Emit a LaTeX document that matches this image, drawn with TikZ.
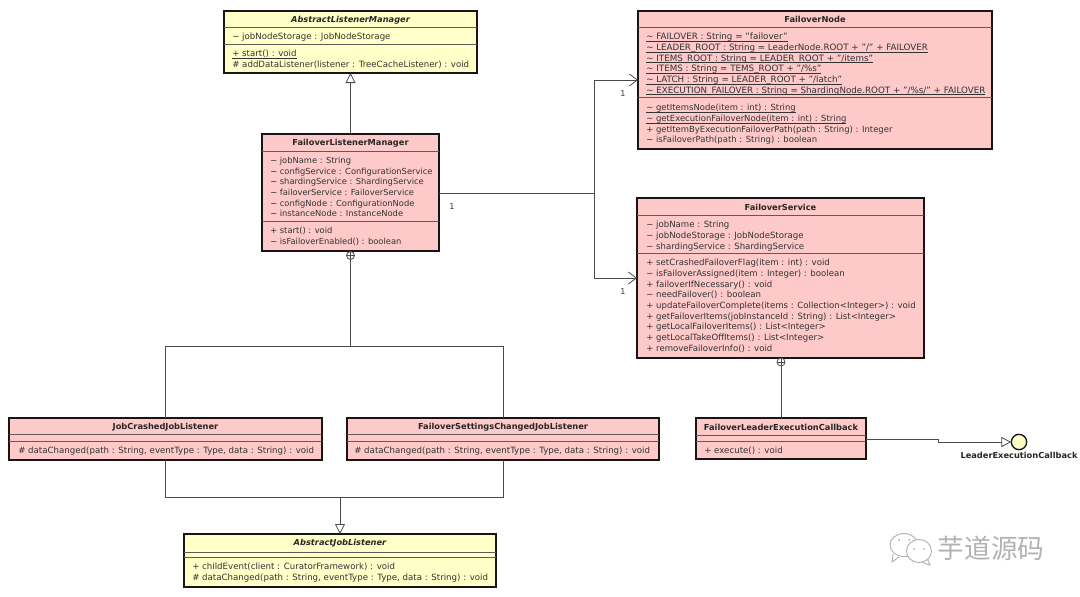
\documentclass[tikz,border=0pt]{standalone}
\usepackage{fontspec}
\setmainfont{DejaVu Sans}
\newfontfamily\cjkwm{Noto Sans CJK SC}
\usetikzlibrary{arrows.meta,calc}
\definecolor{umlpink}{HTML}{FDC9C9}
\definecolor{umlyellow}{HTML}{FFFFC8}
\definecolor{umlline}{HTML}{4A4A4A}
\definecolor{umlborder}{HTML}{1C1414}
\tikzset{
  ubox/.style={draw=umlborder,line width=1.1pt,inner sep=0pt,outer sep=0pt,rectangle},
  usep/.style={draw=umlborder!70,line width=0.7pt},
  utitle/.style={font=\fontsize{6.2}{8}\selectfont\bfseries,text=black!85,inner sep=0pt},
  umember/.style={font=\fontsize{6.47}{8}\selectfont,text=black!80,inner sep=0pt,anchor=north west,align=left,yshift=-1.5pt},
  usize/.style={font=\fontsize{#1}{8}\selectfont},
  conn/.style={draw=umlline,line width=0.75pt},
  gen/.style={conn,-{Triangle[open,fill=white,length=7.5pt,width=7.5pt,line width=0.6pt]}},
  assoc/.style={conn,-{Straight Barb[length=6pt,width=9pt,line width=0.6pt]}},
  mult/.style={font=\fontsize{6}{7}\selectfont,text=black!80,inner sep=0pt},
  nest/.style={circle,draw=umlline,fill=white,line width=0.6pt,minimum size=6pt,inner sep=0pt,outer sep=0pt},
  wmline/.style={draw=black!30,line width=0.7pt,fill=white}
}
\newcommand\ubox[6]{\node[ubox,fill=#6,minimum width={(#4-#2)*0.75pt},minimum height={(#5-#3)*0.75pt}] (#1) at ({(#2+#4)/2},{(#3+#5)/2}) {};}
\newcommand\usepat[2]{\draw[usep] (#1.west |- 0,#2) -- (#1.east |- 0,#2);}
\newcommand\ul[1]{\setbox0\hbox{#1}\rlap{\rule[-1.25pt]{\wd0}{0.35pt}}\box0 }
\begin{document}
\begin{tikzpicture}[x=0.75pt,y=-0.75pt]
\useasboundingbox (0,0) rectangle (1080,596);

% AbstractListenerManager
\ubox{alm}{224}{11}{477}{73}{umlyellow}
\usepat{alm}{27} \usepat{alm}{44}
\node[utitle] (almT) at (350.5,20) {\itshape AbstractListenerManager};
\node[umember] (almA) at (232,31) {− jobNodeStorage : JobNodeStorage};
\node[umember] (almM) at (232,48) {\ul{+ start() : void}\\\# addDataListener(listener : TreeCacheListener) : void};

% FailoverListenerManager
\ubox{flm}{262}{134}{439}{251}{umlpink}
\usepat{flm}{151} \usepat{flm}{221}
\node[utitle] (flmT) at (350.5,143) {FailoverListenerManager};
\node[umember,usize=6.25] (flmA) at (270,155) {− jobName : String\\− configService : ConfigurationService\\− shardingService : ShardingService\\− failoverService : FailoverService\\− configNode : ConfigurationNode\\− instanceNode : InstanceNode};
\node[umember,usize=6.25] (flmM) at (270,225) {+ start() : void\\− isFailoverEnabled() : boolean};

% FailoverNode
\ubox{fn}{638}{11}{992}{149}{umlpink}
\usepat{fn}{27} \usepat{fn}{97}
\node[utitle] (fnT) at (815,19.5) {FailoverNode};
\node[umember,usize=6.55] (fnA) at (646,31) {\ul{\textasciitilde{} FAILOVER : String = "failover"}\\\ul{\textasciitilde{} LEADER\_ROOT : String = LeaderNode.ROOT + "/" + FAILOVER}\\\ul{\textasciitilde{} ITEMS\_ROOT : String = LEADER\_ROOT + "/items"}\\\ul{\textasciitilde{} ITEMS : String = TEMS\_ROOT + "/\%s"}\\\ul{\textasciitilde{} LATCH : String = LEADER\_ROOT + "/latch"}\\\ul{\textasciitilde{} EXECUTION\_FAILOVER : String = ShardingNode.ROOT + "/\%s/" + FAILOVER}};
\node[umember,usize=6.34] (fnM) at (646,102) {\ul{\textasciitilde{} getItemsNode(item : int) : String}\\\ul{\textasciitilde{} getExecutionFailoverNode(item : int) : String}\\+ getItemByExecutionFailoverPath(path : String) : Integer\\− isFailoverPath(path : String) : boolean};

% FailoverService
\ubox{fs}{637}{198}{924}{358}{umlpink}
\usepat{fs}{215} \usepat{fs}{253}
\node[utitle] (fsT) at (780.5,207) {FailoverService};
\node[umember,usize=6.43] (fsA) at (646,219) {− jobName : String\\− jobNodeStorage : JobNodeStorage\\− shardingService : ShardingService};
\node[umember,usize=6.43] (fsM) at (646,257) {+ setCrashedFailoverFlag(item : int) : void\\− isFailoverAssigned(item : Integer) : boolean\\+ failoverIfNecessary() : void\\− needFailover() : boolean\\+ updateFailoverComplete(items : Collection<Integer>) : void\\+ getFailoverItems(jobInstanceId : String) : List<Integer>\\+ getLocalFailoverItems() : List<Integer>\\+ getLocalTakeOffItems() : List<Integer>\\+ removeFailoverInfo() : void};

% JobCrashedJobListener
\ubox{jc}{9}{418}{322}{460}{umlpink}
\usepat{jc}{434} \usepat{jc}{441}
\node[utitle] (jcT) at (165.5,427) {JobCrashedJobListener};
\node[umember] (jcM) at (18,445) {\# dataChanged(path : String, eventType : Type, data : String) : void};

% FailoverSettingsChangedJobListener
\ubox{fc}{347}{418}{659}{460}{umlpink}
\usepat{fc}{434} \usepat{fc}{441}
\node[utitle] (fcT) at (503,427) {FailoverSettingsChangedJobListener};
\node[umember] (fcM) at (354,445) {\# dataChanged(path : String, eventType : Type, data : String) : void};

% AbstractJobListener
\ubox{ajl}{184}{534}{496}{587}{umlyellow}
\usepat{ajl}{552} \usepat{ajl}{557}
\node[utitle] (ajlT) at (340,543) {\itshape AbstractJobListener};
\node[umember] (ajlM) at (192,561) {+ childEvent(client : CuratorFramework) : void\\\# dataChanged(path : String, eventType : Type, data : String) : void};

% FailoverLeaderExecutionCallback
\ubox{cb}{696}{418}{866}{459}{umlpink}
\usepat{cb}{435} \usepat{cb}{441}
\node[utitle] (cbT) at (781,427) {FailoverLeaderExecutionCallback};
\node[umember] (cbM) at (704,445) {+ execute() : void};

% interface lollipop
\node[circle,draw=umlborder,fill=umlyellow,line width=1pt,minimum size=11.5pt,inner sep=0pt,outer sep=0pt] (lec) at (1019,442) {};
\node[utitle] (lecT) at (1019,455) {LeaderExecutionCallback};

% connectors
\draw[gen] (flm.north) -- (alm.south);
\coordinate (busR) at (594,193);
\coordinate (flmOut) at (flm.east |- busR);
\draw[conn] (flmOut) -- (busR);
\draw[assoc] (busR) |- (fn.west |- 0,80);
\draw[assoc] (busR) |- (fs.west |- 0,278);
\node[mult] (m1) at (452,207) {1};
\node[mult] (m2) at (623,94) {1};
\node[mult] (m3) at (623,292) {1};

\node[nest] (nflm) at (350.5,255.5) {};
\draw[nest,minimum size=0pt] (nflm.north) -- (nflm.south) (nflm.west) -- (nflm.east);
\coordinate (busT) at (350.5,346);
\draw[conn] (nflm.south) -- (busT);
\draw[conn] (jc.north) -- (jc.north |- busT) -- (fc.north |- busT) -- (fc.north);

\coordinate (busB) at (340,497);
\draw[conn] (jc.south) -- (jc.south |- busB) -- (fc.south |- busB) -- (fc.south);
\draw[gen] (busB) -- (ajl.north);

\node[nest] (nfs) at (781,362) {};
\draw[nest,minimum size=0pt] (nfs.north) -- (nfs.south) (nfs.west) -- (nfs.east);
\draw[conn] (nfs.south) -- (cb.north);

\coordinate (cbOut) at (866,439);
\coordinate (jog) at (938,439);
\draw[conn] (cbOut) -- (jog) -- (938,442);
\draw[gen] (938,442) -- (lec.west);

% watermark
\draw[wmline] (893,554) -- (892,562) -- (899,557);
\draw[wmline] (904,545) ellipse (14 and 11.5);
\fill[black!30] (899,540) circle (1) (909,540) circle (1);
\draw[wmline] (927,558) -- (930,565) -- (921,562);
\draw[wmline] (919,551) ellipse (12.5 and 11.5);
\fill[black!30] (914,549) circle (1) (924,549) circle (1);
\node[font=\cjkwm\fontsize{20}{22}\selectfont,text=black!30,inner sep=0pt] (wm) at (991,548) {芋道源码};
\end{tikzpicture}
\end{document}
